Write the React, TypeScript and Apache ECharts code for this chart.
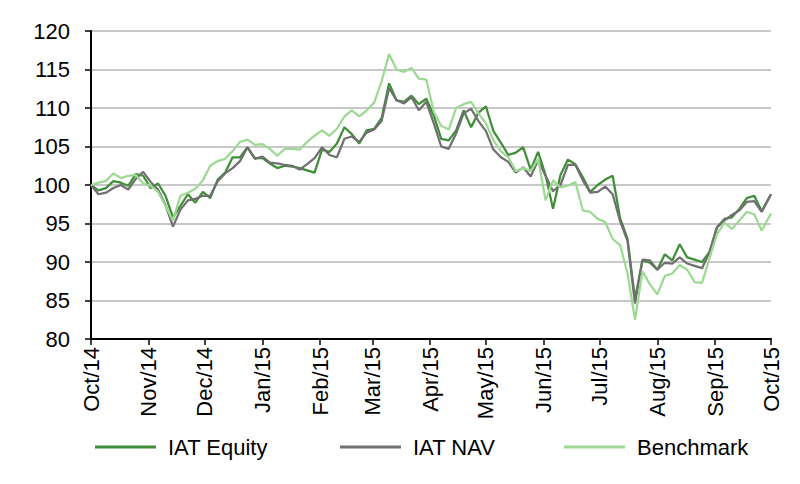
import React, { useEffect, useRef } from "react";
import * as echarts from "echarts";

const dates = [
  "2014-10-01", "2014-10-05", "2014-10-09", "2014-10-13", "2014-10-17", "2014-10-21", "2014-10-25", "2014-10-29",
  "2014-11-02", "2014-11-06", "2014-11-10", "2014-11-14", "2014-11-18", "2014-11-22", "2014-11-26", "2014-11-30",
  "2014-12-04", "2014-12-08", "2014-12-12", "2014-12-16", "2014-12-20", "2014-12-24", "2014-12-28", "2015-01-01",
  "2015-01-05", "2015-01-09", "2015-01-13", "2015-01-17", "2015-01-21", "2015-01-25", "2015-01-29", "2015-02-02",
  "2015-02-06", "2015-02-10", "2015-02-14", "2015-02-18", "2015-02-22", "2015-02-26", "2015-03-02", "2015-03-06",
  "2015-03-10", "2015-03-14", "2015-03-18", "2015-03-22", "2015-03-26", "2015-03-30", "2015-04-03", "2015-04-07",
  "2015-04-11", "2015-04-15", "2015-04-19", "2015-04-23", "2015-04-27", "2015-05-01", "2015-05-05", "2015-05-09",
  "2015-05-13", "2015-05-17", "2015-05-21", "2015-05-25", "2015-05-29", "2015-06-02", "2015-06-06", "2015-06-10",
  "2015-06-14", "2015-06-18", "2015-06-22", "2015-06-26", "2015-06-30", "2015-07-04", "2015-07-08", "2015-07-12",
  "2015-07-16", "2015-07-20", "2015-07-24", "2015-07-28", "2015-08-01", "2015-08-05", "2015-08-09", "2015-08-13",
  "2015-08-17", "2015-08-21", "2015-08-25", "2015-08-29", "2015-09-02", "2015-09-06", "2015-09-10", "2015-09-14",
  "2015-09-18", "2015-09-22", "2015-09-26", "2015-10-01",
];

const iatEquity = [
  100.0, 99.3, 99.6, 100.5, 100.3, 99.9, 101.4, 101.2, 99.6, 100.2,
  98.6, 95.8, 97.3, 98.8, 97.7, 99.1, 98.3, 100.7, 101.6, 103.6,
  103.6, 104.9, 103.5, 103.5, 102.8, 102.2, 102.5, 102.4, 102.2, 101.9,
  101.6, 104.6, 104.3, 105.4, 107.5, 106.6, 105.4, 107.1, 107.3, 108.7,
  113.2, 111.0, 110.8, 111.6, 110.5, 111.2, 109.0, 106.0, 105.8, 107.1,
  109.7, 107.5, 109.4, 110.2, 107.0, 105.5, 103.9, 104.2, 104.9, 102.0,
  104.3, 101.3, 96.9, 101.3, 103.3, 102.7, 101.0, 99.1, 100.0, 100.7,
  101.2, 95.7, 93.0, 85.2, 90.2, 89.9, 89.0, 91.0, 90.2, 92.3,
  90.6, 90.3, 90.0, 91.3, 94.5, 95.6, 95.8, 96.9, 98.3, 98.6, 96.6, 98.8,
];

const iatNav = [
  100.0, 98.8, 99.0, 99.6, 100.0, 99.4, 100.8, 101.7, 100.4, 99.4,
  97.4, 94.6, 96.8, 98.0, 98.2, 98.6, 98.6, 100.5, 101.5, 102.2,
  103.1, 104.9, 103.4, 103.7, 102.9, 102.8, 102.6, 102.5, 102.0, 102.7,
  103.5, 104.9, 103.9, 103.6, 106.0, 106.3, 105.6, 106.8, 107.2, 108.3,
  112.6, 111.0, 110.6, 111.4, 109.7, 110.8, 108.0, 105.0, 104.7, 106.7,
  109.3, 109.9, 108.3, 107.0, 104.6, 103.6, 103.0, 101.6, 102.3, 101.1,
  103.2, 101.2, 99.2, 100.0, 102.6, 102.6, 100.6, 99.0, 99.1, 99.8,
  98.8, 95.3, 92.7, 84.6, 90.3, 90.2, 89.0, 89.9, 89.8, 90.6,
  89.8, 89.5, 89.2, 91.3, 94.5, 95.4, 96.1, 96.7, 97.8, 97.9, 96.5, 98.8,
];

const benchmark = [
  100.0, 100.3, 100.5, 101.5, 100.9, 101.2, 101.3, 100.2, 99.9, 99.1,
  97.3, 95.4, 98.6, 99.0, 99.5, 100.6, 102.5, 103.1, 103.4, 104.4,
  105.6, 105.9, 105.2, 105.3, 104.7, 103.8, 104.7, 104.7, 104.6, 105.6,
  106.4, 107.1, 106.4, 107.3, 108.9, 109.7, 108.9, 109.7, 110.7, 113.5,
  117.0, 115.0, 114.7, 115.2, 113.8, 113.7, 109.5, 107.7, 107.2, 110.0,
  110.5, 110.8, 109.3, 108.0, 105.8, 104.4, 103.6, 101.8, 102.2, 101.8,
  103.4, 98.0, 100.6, 99.7, 99.9, 100.4, 96.7, 96.5, 95.6, 95.2,
  93.0, 92.2, 88.5, 82.5, 88.8, 87.1, 85.8, 88.2, 88.5, 89.6,
  89.0, 87.4, 87.3, 90.5, 93.6, 95.1, 94.3, 95.4, 96.5, 96.2, 94.1, 96.3,
];

const monthTicks = [
  "2014-10-01", "2014-11-01", "2014-12-01", "2015-01-01", "2015-02-01", "2015-03-01", "2015-04-01",
  "2015-05-01", "2015-06-01", "2015-07-01", "2015-08-01", "2015-09-01", "2015-10-01",
];
const monthNames = ["Jan", "Feb", "Mar", "Apr", "May", "Jun", "Jul", "Aug", "Sep", "Oct", "Nov", "Dec"];

const seriesNames = ["IAT Equity", "IAT NAV", "Benchmark"];
const seriesColors = ["#3f8e38", "#707070", "#9dd993"];

const FONT = "'Liberation Sans', Arial, sans-serif";

export default function App() {
  const ref = useRef<HTMLDivElement>(null);
  useEffect(() => {
    if (!ref.current) return;
    const chart = echarts.init(ref.current, null, { renderer: "svg" });
    const ts = (s: string) => Date.UTC(+s.slice(0, 4), +s.slice(5, 7) - 1, +s.slice(8, 10));
    const tickTs = monthTicks.map(ts);
    const seriesData = [iatEquity, iatNav, benchmark];
    const legendLefts = [90, 335, 559];
    chart.setOption({
      animation: false,
      backgroundColor: "#ffffff",
      grid: { left: 91, right: 29, top: 31, bottom: 145, containLabel: false },
      legend: seriesNames.map((n, i) => ({
        data: [n],
        left: legendLefts[i],
        top: 431,
        icon: "rect",
        itemWidth: 61,
        itemHeight: 3,
        textStyle: { fontFamily: FONT, fontSize: 22, color: "#000", padding: [0, 0, 0, 7] },
      })),
      xAxis: {
        type: "value",
        min: tickTs[0],
        max: tickTs[tickTs.length - 1],
        axisLine: { show: true, onZero: false, lineStyle: { color: "#000", width: 2 } },
        axisTick: { show: true, customValues: tickTs, length: 6, lineStyle: { color: "#000", width: 1.5 } },
        axisLabel: {
          customValues: tickTs,
          rotate: 90,
          margin: 8,
          fontFamily: FONT,
          fontSize: 22,
          color: "#000",
          showMinLabel: true,
          showMaxLabel: true,
          hideOverlap: false,
          formatter: (v: number) => {
            const d = new Date(v);
            return monthNames[d.getUTCMonth()] + "/" + String(d.getUTCFullYear()).slice(2);
          },
        },
        splitLine: { show: false },
      },
      yAxis: {
        type: "value",
        min: 80,
        max: 120,
        interval: 5,
        axisLine: { show: true, lineStyle: { color: "#000", width: 2 } },
        axisTick: { show: true, length: 6, lineStyle: { color: "#000", width: 1.5 } },
        axisLabel: { margin: 21, fontFamily: FONT, fontSize: 22, color: "#000" },
        splitLine: { show: true, lineStyle: { color: "#c8c8c8", width: 2 } },
      },
      series: seriesNames.map((n, i) => ({
        name: n,
        type: "line",
        symbol: "none",
        showSymbol: false,
        data: dates.map((d, j) => [ts(d), seriesData[i][j]]),
        lineStyle: { color: seriesColors[i], width: 2.25 },
        itemStyle: { color: seriesColors[i] },
      })),
    });
    return () => chart.dispose();
  }, []);
  return <div ref={ref} style={{ position: "absolute", left: 0, top: 0, width: 800, height: 484 }} />;
}
